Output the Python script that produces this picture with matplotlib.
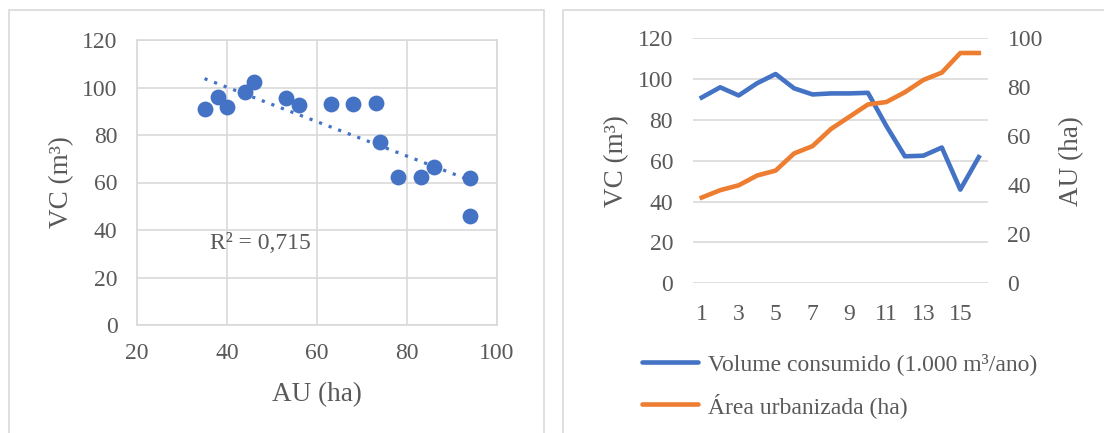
import numpy as np
import matplotlib
matplotlib.use("Agg")
import matplotlib.pyplot as plt
from matplotlib.patches import Rectangle
from matplotlib.lines import Line2D

# ---- data ----
au_ha = [35, 38, 40, 44, 46, 53, 56, 63, 68, 73, 74, 78, 83, 86, 94, 94]
vc_m3 = [91, 96, 92, 98, 102.5, 95.5, 92.5, 93, 93, 93.3, 77, 62.2, 62.5, 66.5, 45.9, 61.8]
periods = list(range(1, 17))
r2_label = "R² = 0,715"
left_xticks = [20, 40, 60, 80, 100]
vc_ticks = [0, 20, 40, 60, 80, 100, 120]
au_ticks = [0, 20, 40, 60, 80, 100]
period_ticks = [1, 3, 5, 7, 9, 11, 13, 15]
legend_labels = ["Volume consumido (1.000 m³/ano)", "Área urbanizada (ha)"]

BLUE = "#4472C4"
ORANGE = "#ED7D31"
TXT = "#595959"
GRID = "#D9D9D9"
TICK_FS = 17
LAB_FS = 19.5

plt.rcParams['font.family'] = ['Liberation Serif', 'DejaVu Serif']

W, H = 1104, 433
fig = plt.figure(figsize=(W / 100, H / 100), dpi=100)

def fx(px):
    return px / W

def fy(py):
    return 1 - py / H

# panel frames
fig.add_artist(Rectangle((fx(8.5), fy(440)), fx(544) - fx(8.5), fy(9.5) - fy(440),
                         transform=fig.transFigure, fill=False, edgecolor="#D9D9D9", lw=1.2))
fig.add_artist(Rectangle((fx(563), fy(440)), fx(1110) - fx(563), fy(9.5) - fy(440),
                         transform=fig.transFigure, fill=False, edgecolor="#D9D9D9", lw=1.2))

# ---- left scatter ----
ax1 = fig.add_axes([fx(137), fy(325), fx(497) - fx(137), fy(40) - fy(325)])
ax1.set_xlim(20, 100)
ax1.set_ylim(0, 120)
ax1.set_xticks(left_xticks)
ax1.set_yticks(vc_ticks)
ax1.grid(True, color=GRID, lw=1.2)
ax1.set_axisbelow(True)
for s in ax1.spines.values():
    s.set_color(GRID)
    s.set_linewidth(1.2)
ax1.tick_params(length=0, labelsize=TICK_FS, colors=TXT)
ax1.tick_params(axis='y', pad=14)
ax1.tick_params(axis='x', pad=13)
ax1.scatter(au_ha, vc_m3, s=130, color=BLUE, zorder=3, linewidths=0)
coef = np.polyfit(au_ha, vc_m3, 1)
xs = np.array([min(au_ha), max(au_ha)])
ax1.plot(xs, np.polyval(coef, xs), color=BLUE, lw=2.3, ls=(0, (1, 2.2)), zorder=2)
ax1.text(36.2, 34.5, r2_label, fontsize=TICK_FS, color=TXT, va="center", ha="left")
ax1.set_xlabel("AU (ha)", fontsize=LAB_FS, color=TXT, labelpad=13)
ax1.set_ylabel("VC (m³)", fontsize=LAB_FS, color=TXT, labelpad=6)

# ---- right lines ----
ax2 = fig.add_axes([fx(692.5), fy(283.3), fx(988) - fx(692.5), fy(38.3) - fy(283.3)])
ax2.set_xlim(0.5, 16.5)
ax2.set_ylim(0, 120)
ax2.set_yticks(vc_ticks)
ax2.set_xticks(period_ticks)
ax2.yaxis.grid(True, color=GRID, lw=1.2)
ax2.set_axisbelow(True)
for s in ax2.spines.values():
    s.set_visible(False)
ax2.tick_params(length=0, labelsize=TICK_FS, colors=TXT)
ax2.tick_params(axis='y', pad=14)
ax2.tick_params(axis='x', pad=15)
ax2.plot(periods, vc_m3, color=BLUE, lw=3.3, solid_joinstyle="round", zorder=3)
ax2.set_ylabel("VC (m³)", fontsize=LAB_FS, color=TXT, labelpad=6)

ax3 = ax2.twinx()
ax3.set_ylim(0, 100)
ax3.set_yticks(au_ticks)
for s in ax3.spines.values():
    s.set_visible(False)
ax3.tick_params(length=0, labelsize=TICK_FS, colors=TXT, pad=14)
ax3.plot(periods, au_ha, color=ORANGE, lw=3.3, solid_joinstyle="round", zorder=3)
ax3.set_ylabel("AU (ha)", fontsize=LAB_FS, color=TXT, labelpad=12)

handles = [Line2D([], [], color=BLUE, lw=3.3, solid_capstyle="round"),
           Line2D([], [], color=ORANGE, lw=3.3, solid_capstyle="round")]
leg = fig.legend(handles, legend_labels, loc="upper left",
                 bbox_to_anchor=(fx(642), fy(353)), frameon=False,
                 fontsize=TICK_FS, handlelength=2.37, handletextpad=0.42,
                 labelspacing=0.75, labelcolor=TXT, borderpad=0, borderaxespad=0)

fig.savefig("out.png", dpi=100)
